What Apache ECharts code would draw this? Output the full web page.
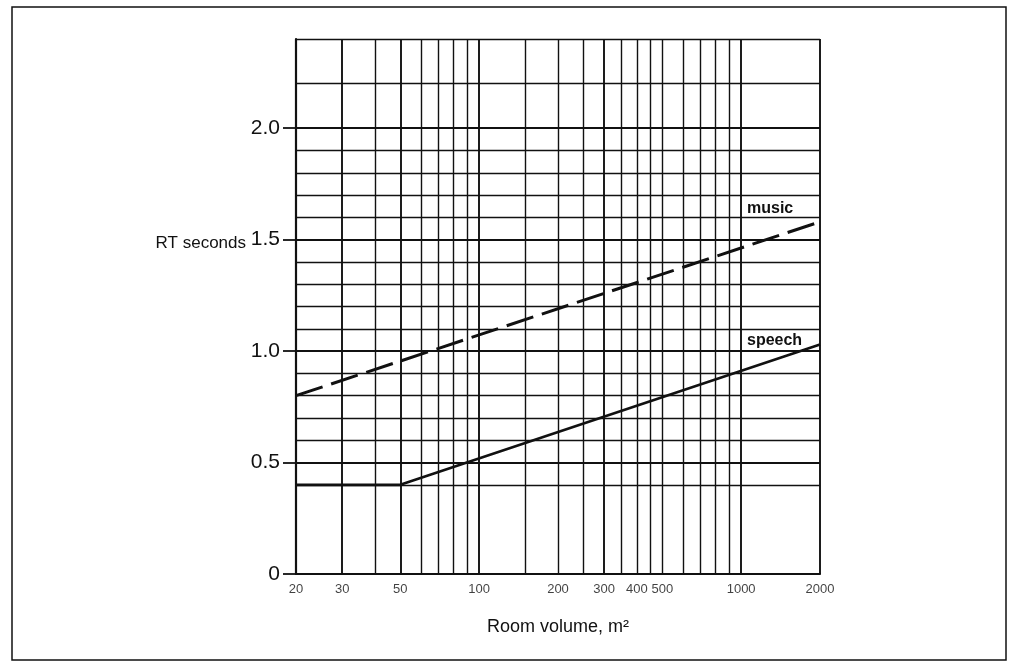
<!DOCTYPE html>
<html>
<head>
<meta charset="utf-8">
<script src="https://cdn.jsdelivr.net/npm/echarts@6/dist/echarts.min.js"></script>
<style>html,body{margin:0;padding:0;background:#fff;}#chart{width:1011px;height:669px;}</style>
</head>
<body>
<div id="chart"></div>
<script>
// ---- data ----
var xTickLabels = [20, 30, 50, 100, 200, 300, 400, 500, 1000, 2000];
var xGridMajor = [30, 50, 100, 300, 1000, 2000];
var xGridMinor = [40, 60, 70, 80, 90, 150, 200, 250, 350, 400, 450, 500, 600, 700, 800, 900];
var yTickLabels = [0, 0.5, 1.0, 1.5, 2.0];
var yGridMajor = [0.5, 1.0, 1.5, 2.0];
var yGridMinor = [0.4, 0.6, 0.7, 0.8, 0.9, 1.1, 1.2, 1.3, 1.4, 1.6, 1.7, 1.8, 1.9, 2.2, 2.4];
var musicVolume = [20, 2000];
var musicRT = [0.80, 1.58];
var speechVolume = [20, 50, 2000];
var speechRT = [0.40, 0.40, 1.03];

var FONT = "'Liberation Sans Narrow', 'Liberation Sans', sans-serif";

function pairs(xs, ys) { return xs.map(function (x, i) { return [x, ys[i]]; }); }

var chart = echarts.init(document.getElementById('chart'), null, { renderer: 'canvas' });

var gridLineSeries = function (name, axisKey, values, width) {
  return {
    name: name, type: 'line', data: [], silent: true,
    markLine: {
      silent: true, animation: false, symbol: ['none', 'none'],
      label: { show: false },
      lineStyle: { color: '#111', width: width, type: 'solid' },
      emphasis: { disabled: true },
      data: values.map(function (v) { var o = {}; o[axisKey] = v; return o; })
    }
  };
};

var option = {
  animation: false,
  backgroundColor: '#ffffff',
  grid: { left: 296, right: 191, top: 39, bottom: 95, containLabel: false },
  xAxis: {
    type: 'log', logBase: 10, min: 20, max: 2000,
    name: 'Room volume, m²', nameLocation: 'middle', nameGap: 44,
    nameTextStyle: { fontFamily: FONT, fontSize: 18, color: '#111' },
    axisLine: { show: true, lineStyle: { color: '#111', width: 2.2 } },
    axisTick: { show: false },
    axisLabel: { show: false },
    splitLine: { show: false },
    minorTick: { show: false }, minorSplitLine: { show: false }
  },
  yAxis: {
    type: 'value', min: 0, max: 2.4,
    axisLine: { show: true, lineStyle: { color: '#111', width: 2.2 } },
    axisTick: { show: true, customValues: yTickLabels, length: 13, inside: false, lineStyle: { color: '#111', width: 1.8 } },
    axisLabel: {
      show: true, customValues: yTickLabels, margin: 16,
      fontFamily: FONT, fontSize: 21, color: '#111',
      formatter: function (v) { return v === 0 ? '0' : Number(v).toFixed(1); }
    },
    splitLine: { show: false }
  },
  graphic: [
    { type: 'rect', shape: { x: 12, y: 7, width: 994, height: 653 }, style: { fill: 'none', stroke: '#111', lineWidth: 1.5 }, silent: true, z: 0 },
    { type: 'text', x: 246, y: 243, style: { text: 'RT seconds', fontFamily: FONT, fontSize: 17, fill: '#111', align: 'right', verticalAlign: 'middle' } },
    { type: 'text', left: 747, top: 201, style: { text: 'music', fontFamily: FONT, fontSize: 16, fontWeight: 'bold', fill: '#111' } },
    { type: 'text', left: 747, top: 333, style: { text: 'speech', fontFamily: FONT, fontSize: 16, fontWeight: 'bold', fill: '#111' } }
  ],
  series: [
    gridLineSeries('vMinor', 'xAxis', xGridMinor, 1.4),
    gridLineSeries('vMajor', 'xAxis', xGridMajor, 1.9),
    gridLineSeries('hMinor', 'yAxis', yGridMinor, 1.4),
    gridLineSeries('hMajor', 'yAxis', yGridMajor, 1.9),
    {
      name: 'xLabels', type: 'scatter', symbolSize: 0, silent: true, clip: false,
      data: xTickLabels.map(function (v) { return [v, 0]; }),
      label: {
        show: true, position: 'bottom', distance: 9,
        fontFamily: FONT, fontSize: 13, color: '#111',
        formatter: function (p) { return String(p.value[0]); }
      }
    },
    {
      name: 'music', type: 'line', data: pairs(musicVolume, musicRT), symbol: 'none',
      lineStyle: { color: '#111', width: 3, type: [28, 9] }, z: 5
    },
    {
      name: 'speech', type: 'line', data: pairs(speechVolume, speechRT), symbol: 'none',
      lineStyle: { color: '#111', width: 2.6, type: 'solid' }, z: 5
    }
  ]
};
chart.setOption(option);
</script>
</body>
</html>
